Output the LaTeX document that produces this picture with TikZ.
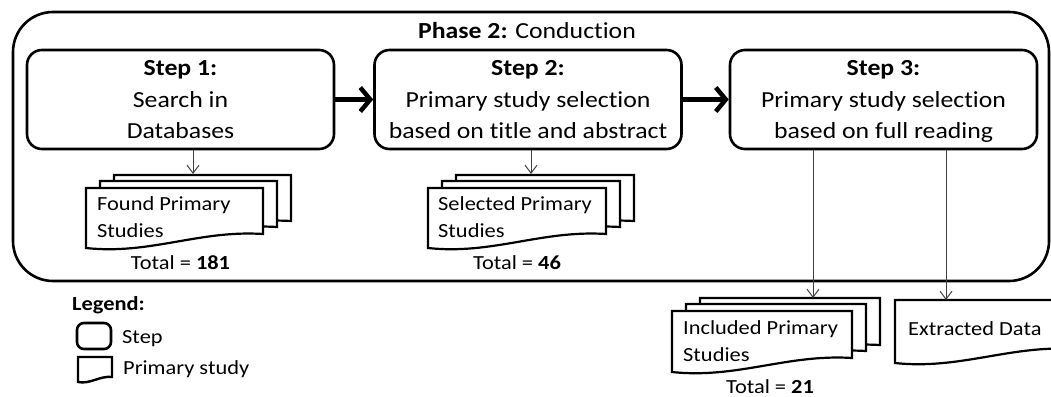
\documentclass[tikz,border=0pt]{standalone}
\usepackage{fontspec}
\setmainfont{Carlito}[FakeStretch=1.12,Ligatures=NoCommon]
\usetikzlibrary{arrows.meta}
% document shape: left, top, right, bottom-left y, drop of the right bottom
\newcommand\docpath[5]{(#1,#2) -- (#3,#2) -- (#3,{#4-#5}) .. controls ({#3-0.36*(#3-#1)},{#4-1.3*#5}) and ({#1+0.36*(#3-#1)},{#4+0.5*#5}) .. (#1,#4) -- cycle}
\newcommand\docstack[4]{%
  \path[docshape] \docpath{#1+28}{#2-13}{#3+28}{#4-13}{14};
  \path[docshape] \docpath{#1+14}{#2-7}{#3+14}{#4-7}{14};
  \path[docshape] \docpath{#1}{#2}{#3}{#4}{14};}
\tikzset{
  stepbox/.style={draw, line width=2.6pt, rounded corners=15pt, inner sep=0pt,
    minimum width=307pt, minimum height=99pt, align=center, text depth=0pt,
    font=\fontsize{23}{31.5}\selectfont},
  phasebox/.style={draw, line width=2.6pt, rounded corners=40pt, inner sep=0pt,
    minimum width=1036pt, minimum height=269pt},
  bigarrow/.style={line width=4.5pt, -{Straight Barb[length=10pt,width=24pt,line width=4.5pt]}},
  thinarrow/.style={draw=black!75, line width=1pt, -{Straight Barb[length=8pt,width=12pt]}},
  docshape/.style={draw, fill=white, line width=2.2pt},
  doctext/.style={anchor=base west, align=left, inner sep=0pt, font=\fontsize{20}{27}\selectfont},
  totaltext/.style={anchor=base, inner sep=0pt, font=\fontsize{20}{24}\selectfont},
  titletext/.style={anchor=base, inner sep=0pt, font=\fontsize{23}{28}\selectfont},
}
\begin{document}
\begin{tikzpicture}[x=1pt,y=-1pt]
\useasboundingbox (0,0) rectangle (1051,396);
% phase container
\node[phasebox] (phase) at (531,146.5) {};
\node[titletext] (title) at (527,39) {\textbf{Phase 2:} Conduction};
% steps
\node[stepbox] (s1) at (180.5,99.5) {\textbf{Step 1:}\\Search in\\Databases};
\node[stepbox] (s2) at (528,99.5) {\textbf{Step 2:}\\Primary study selection\\based on title and abstract};
\node[stepbox] (s3) at (883.5,99.5) {\textbf{Step 3:}\\Primary study selection\\based on full reading};
\draw[bigarrow] (s1.east) -- (s2.west);
\draw[bigarrow] (s2.east) -- (s3.west);
% found
\docstack{86}{188}{263}{248}
\node[doctext] (found) at (97,237) {Found Primary\\Studies};
\node[totaltext] (foundtotal) at (180.5,269) {Total = \textbf{181}};
\coordinate (foundtop) at (193,174);
\draw[thinarrow] (s1.south -| foundtop) -- (foundtop);
% selected
\docstack{428}{188}{606}{248}
\node[doctext] (selected) at (438,237) {Selected Primary\\Studies};
\node[totaltext] (selectedtotal) at (517,269) {Total = \textbf{46}};
\coordinate (selectedtop) at (531,174);
\draw[thinarrow] (s2.south -| selectedtop) -- (selectedtop);
% included
\docstack{672}{311}{852}{372}
\node[doctext] (included) at (683,361) {Included Primary\\Studies};
\node[totaltext] (includedtotal) at (770,393) {Total = \textbf{21}};
\coordinate (includedtop) at (813,298);
\draw[thinarrow] (s3.south -| includedtop) -- (includedtop);
% extracted
\path[docshape] \docpath{895}{300}{1075}{363}{14};
\node[doctext] (extracted) at (908,335) {Extracted Data};
\coordinate (extractedtop) at (946,300);
\draw[thinarrow] (s3.south -| extractedtop) -- (extractedtop);
% legend
\node[doctext, font=\fontsize{20}{24}\selectfont\bfseries] (legend) at (72,310) {Legend:};
\draw[line width=2.6pt, rounded corners=7pt] (77,323) rectangle (111,349);
\node[doctext] (legstep) at (122,343) {Step};
\path[docshape, line width=2.4pt] \docpath{78}{357}{112}{382}{5};
\node[doctext] (legdoc) at (123,374) {Primary study};
\end{tikzpicture}
\end{document}
